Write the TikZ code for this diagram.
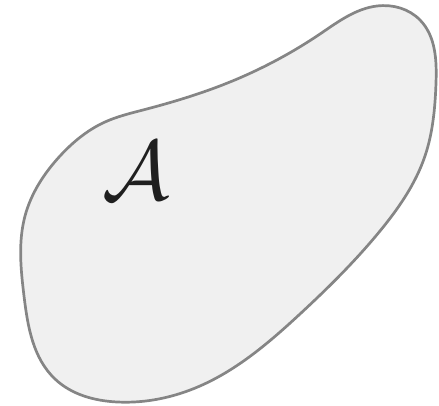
\documentclass[tikz,border=0pt]{standalone}
\usetikzlibrary{hobby}
\begin{document}
\begin{tikzpicture}[x=1pt,y=1pt,
  blob/.style={draw=black!48, fill=black!6, line width=2.7pt, line join=round}]
\useasboundingbox (0,0) rectangle (439,406);
\draw[blob, use Hobby shortcut, closed=true]
 (143,296) .. (230,324) .. (320,372) .. (377,400) .. (420,386) .. (436,323)
 .. (425,250) .. (380,175) .. (300,92) .. (200,20) .. (117,4) .. (55,27)
 .. (24,110) .. (25,190) .. (60,250) .. (105,284);
\node[text=black!88, scale=8.4] (A) at (136,235) {$\mathcal{A}$};
\end{tikzpicture}
\end{document}
